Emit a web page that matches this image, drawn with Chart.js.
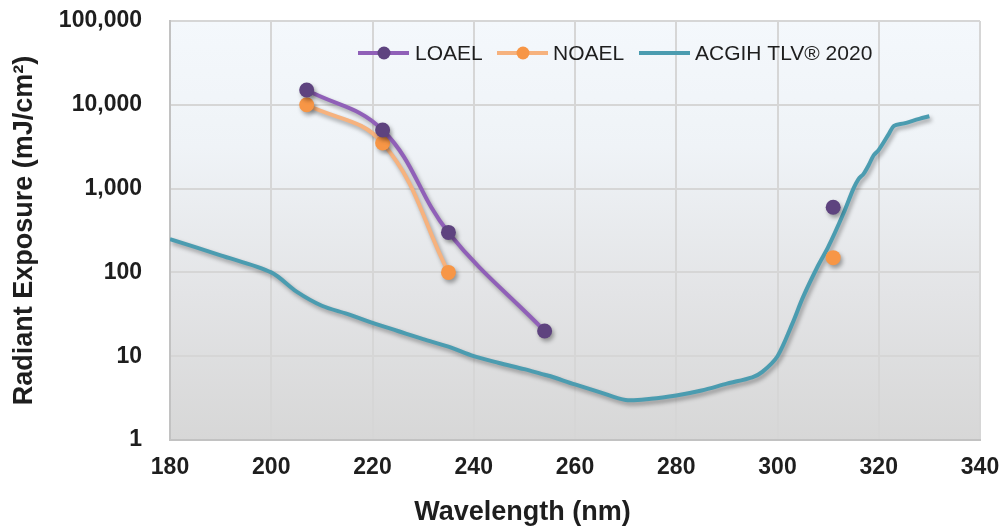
<!DOCTYPE html>
<html>
<head>
<meta charset="utf-8">
<script src="https://cdn.jsdelivr.net/npm/chart.js@4.4.1/dist/chart.umd.min.js"></script>
<style>
  html, body { margin: 0; padding: 0; background: #ffffff; }
  #wrap { width: 1002px; height: 529px; position: relative; }
</style>
</head>
<body>
<div id="wrap"><canvas id="grafica"></canvas></div>
<script>
// Datos
var loaelNm   = [207, 222, 235, 254, 280, 311];
var loaelVal  = [15000, 5000, 300, 20, null, 600];
var noaelNm   = [207, 222, 235, 280, 311];
var noaelVal  = [10000, 3500, 100, null, 150];
var tlvNm  = [180, 190, 200, 205, 210, 215, 220, 225, 230, 235, 240, 245, 250, 254, 255, 260, 265, 270, 275, 280, 285, 290, 295, 297, 300, 303, 305, 308, 310, 313, 315, 316, 317, 318, 319, 320, 322, 323, 325, 328, 330];
var tlvVal = [250, 160, 100, 59, 40, 32, 25, 20, 16, 13, 10, 8.3, 7.0, 6.0, 5.8, 4.6, 3.7, 3.0, 3.1, 3.4, 3.9, 4.7, 5.6, 6.5, 10, 25, 50, 120, 200, 500, 1000, 1300, 1500, 1900, 2500, 2900, 4500, 5600, 6000, 6800, 7300];
var xTicks = [180, 200, 220, 240, 260, 280, 300, 320, 340];
var yTicks = [1, 10, 100, 1000, 10000, 100000];
var nombres = ["LOAEL", "NOAEL", "ACGIH TLV\u00AE 2020"];

// convertir a puntos x/y
function puntos(xs, ys) {
  var lista = [];
  for (let i = 0; i < xs.length; i++) {
    lista.push({x: xs[i], y: ys[i]});
  }
  return lista;
}

var colorTexto = "#1E1E1E";

// Fondo degradado del area de la grafica
var fondo = {
  id: "fondo",
  beforeDraw: function (chart) {
    var a = chart.chartArea, ctx = chart.ctx;
    var g = ctx.createLinearGradient(0, a.top, 0, a.bottom);
    g.addColorStop(0, "#F4F8FC");
    g.addColorStop(0.3, "#EFF3F7");
    g.addColorStop(0.65, "#E3E4E6");
    g.addColorStop(1, "#D7D7D7");
    ctx.save();
    ctx.fillStyle = g;
    ctx.fillRect(a.left, a.top, a.right - a.left, a.bottom - a.top);
    ctx.restore();
  }
};

// Sombra de lineas y puntos
var sombra = {
  id: "sombra",
  beforeDatasetsDraw: function (chart) {
    var ctx = chart.ctx;
    ctx.save();
    ctx.shadowColor = "rgba(0,0,0,0.35)";
    ctx.shadowBlur = 4;
    ctx.shadowOffsetX = 2;
    ctx.shadowOffsetY = 3;
  },
  afterDatasetsDraw: function (chart) {
    chart.ctx.restore();
  }
};

// Leyenda dentro del area
var leyenda = {
  id: "leyenda",
  afterDraw: function (chart) {
    var ctx = chart.ctx;
    var items = [
      {x: 358, tx: 415},
      {x: 497, tx: 553},
      {x: 639, tx: 695}
    ];
    var y = 53;
    ctx.save();
    for (let i = 0; i < items.length; i++) {
      var ds = chart.data.datasets[i];
      ctx.strokeStyle = ds.borderColor;
      ctx.lineWidth = 4;
      ctx.beginPath();
      ctx.moveTo(items[i].x, y);
      ctx.lineTo(items[i].x + 51, y);
      ctx.stroke();
      if (ds.pointRadius > 0) {
        ctx.fillStyle = ds.pointBackgroundColor;
        ctx.beginPath();
        ctx.arc(items[i].x + 26, y, 6.5, 0, Math.PI * 2);
        ctx.fill();
      }
      ctx.fillStyle = colorTexto;
      ctx.font = "21px 'Liberation Sans', Arial, sans-serif";
      ctx.textBaseline = "middle";
      ctx.fillText(nombres[i], items[i].tx, y + 1);
    }
    ctx.restore();
  }
};

var ctx = document.getElementById("grafica").getContext("2d");
var miGrafica = new Chart(ctx, {
  type: "line",
  data: {
    datasets: [{
      label: nombres[0],
      data: puntos(loaelNm, loaelVal),
      borderColor: "#9060B8",
      borderWidth: 4,
      pointBackgroundColor: "#5E437F",
      pointBorderColor: "#5E437F",
      pointRadius: 7.5,
      pointBorderWidth: 0,
      tension: 0.4,
      spanGaps: false
    }, {
      label: nombres[1],
      data: puntos(noaelNm, noaelVal),
      borderColor: "#F6B27E",
      borderWidth: 4,
      pointBackgroundColor: "#F79646",
      pointBorderColor: "#F79646",
      pointRadius: 7.5,
      pointBorderWidth: 0,
      tension: 0.4,
      spanGaps: false
    }, {
      label: nombres[2],
      data: puntos(tlvNm, tlvVal),
      borderColor: "#4B9CB0",
      borderWidth: 4,
      pointRadius: 0,
      tension: 0.3
    }]
  },
  options: {
    responsive: true,
    maintainAspectRatio: false,
    animation: false,
    layout: { padding: 0 },
    plugins: {
      legend: { display: false },
      tooltip: { enabled: false }
    },
    scales: {
      x: {
        type: "linear",
        min: 180,
        max: 340,
        afterBuildTicks: function (s) {
          s.ticks = xTicks.map(function (v) { return {value: v}; });
        },
        afterFit: function (s) {
          s.height = 89;
          s.paddingLeft = 0;
          s.paddingRight = 22;
        },
        grid: { color: "#D6D6D6", lineWidth: 2, drawTicks: false },
        border: { color: "#C2C2C2", width: 2 },
        ticks: {
          padding: 14,
          color: colorTexto,
          font: { family: "'Liberation Sans', Arial, sans-serif", size: 23, weight: "bold" },
          maxRotation: 0
        },
        title: {
          display: true,
          // espacios al final para correr el titulo a la izquierda como en el original
          text: "Wavelength (nm)" + "\u00A0".repeat(14),
          color: colorTexto,
          padding: { top: 0, bottom: 0 },
          font: { family: "'Liberation Sans', Arial, sans-serif", size: 27, weight: "bold", lineHeight: 1.2 }
        }
      },
      y: {
        type: "logarithmic",
        min: 1,
        max: 100000,
        afterBuildTicks: function (s) {
          s.ticks = yTicks.map(function (v) { return {value: v}; });
        },
        afterFit: function (s) {
          s.width = 170;
          s.paddingTop = 21;
          s.paddingBottom = 0;
        },
        grid: { color: "#D6D6D6", lineWidth: 2, drawTicks: false },
        border: { color: "#C2C2C2", width: 2 },
        ticks: {
          padding: 28,
          color: colorTexto,
          font: { family: "'Liberation Sans', Arial, sans-serif", size: 23, weight: "bold" },
          callback: function (v) { return Number(v).toLocaleString("en-US"); }
        },
        title: {
          display: true,
          text: "Radiant Exposure (mJ/cm\u00B2)",
          color: colorTexto,
          padding: { top: 11, bottom: 0 },
          font: { family: "'Liberation Sans', Arial, sans-serif", size: 27, weight: "bold", lineHeight: 1 }
        }
      }
    }
  },
  plugins: [fondo, sombra, leyenda]
});
</script>
</body>
</html>
